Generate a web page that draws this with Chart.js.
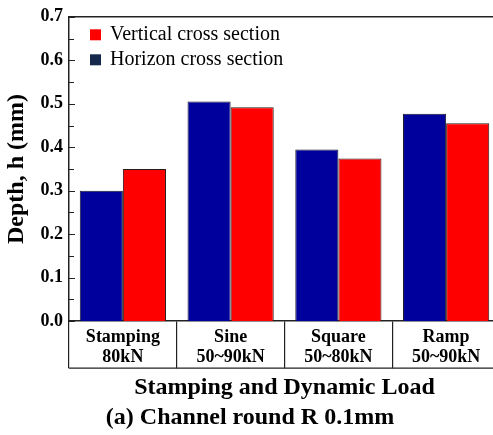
<!DOCTYPE html>
<html>
<head>
<meta charset="utf-8">
<script src="https://cdn.jsdelivr.net/npm/chart.js@4/dist/chart.umd.min.js"></script>
<style>
  html, body { margin: 0; padding: 0; background: #fff; overflow: hidden; }
  #wrap { width: 500px; height: 435px; }
</style>
</head>
<body>
<div id="wrap"><canvas id="myChart"></canvas></div>
<script>
// load cases along the x axis (two lines each)
const loadCases = [
  ['Stamping', '80kN'],
  ['Sine', '50~90kN'],
  ['Square', '50~80kN'],
  ['Ramp', '50~90kN']
];
// depth h in mm for each section
const horizonDepth = [0.300, 0.505, 0.395, 0.477];
const verticalDepth = [0.350, 0.492, 0.374, 0.455];
// y axis range
const yMin = 0.0;
const yMax = 0.7;
const yStep = 0.1;

const serif = '"Liberation Serif", "Times New Roman", serif';
Chart.defaults.font.family = serif;
Chart.defaults.color = '#000';

// legend entries, drawn inside the plot in this order
const legendItems = [
  { text: 'Vertical cross section', color: '#ff0000' },
  { text: 'Horizon cross section', color: '#15284b' }
];

// frame, inward y ticks, box under the x axis and the legend
const framePlugin = {
  id: 'frame',
  afterDraw(chart) {
    const ctx = chart.ctx;
    const area = chart.chartArea;
    const x = chart.scales.x;
    const y = chart.scales.y;
    ctx.save();
    ctx.strokeStyle = '#222';
    ctx.lineWidth = 1.5;
    // top and right border of the plot
    ctx.beginPath();
    ctx.moveTo(area.left, area.top);
    ctx.lineTo(area.right, area.top);
    ctx.lineTo(area.right, area.bottom);
    ctx.stroke();
    // bottom line of the label box
    const boxBottom = x.top + x.options.grid.tickLength;
    ctx.lineWidth = 1.2;
    ctx.beginPath();
    ctx.moveTo(area.left, boxBottom);
    ctx.lineTo(area.right, boxBottom);
    ctx.stroke();
    // major and minor ticks pointing into the plot
    ctx.lineWidth = 1;
    for (let v = yMin; v <= yMax + 1e-9; v += yStep / 2) {
      const py = Math.round(y.getPixelForValue(v)) + 0.5;
      const major = Math.abs(v / yStep - Math.round(v / yStep)) < 1e-6;
      ctx.beginPath();
      ctx.moveTo(area.left, py);
      ctx.lineTo(area.left + (major ? 6 : 5), py);
      ctx.stroke();
    }
    // legend
    ctx.font = '20px ' + serif;
    ctx.textBaseline = 'middle';
    ctx.textAlign = 'left';
    legendItems.forEach((item, i) => {
      const ly = area.top + 18 + i * 25;
      ctx.fillStyle = item.color;
      ctx.fillRect(area.left + 21, ly - 5.5, 11, 11);
      ctx.fillStyle = '#000';
      ctx.fillText(item.text, area.left + 41, ly);
    });
    ctx.restore();
  }
};

const ctx = document.getElementById('myChart').getContext('2d');
const myChart = new Chart(ctx, {
  type: 'bar',
  data: {
    labels: loadCases,
    datasets: [
      {
        label: 'Horizon cross section',
        data: horizonDepth,
        backgroundColor: '#00009c',
        borderColor: '#1a1a2a',
        borderWidth: 1
      },
      {
        label: 'Vertical cross section',
        data: verticalDepth,
        backgroundColor: '#ff0000',
        borderColor: '#2a1a1a',
        borderWidth: 1
      }
    ]
  },
  options: {
    responsive: true,
    maintainAspectRatio: false,
    animation: false,
    layout: { padding: { left: 0, top: 14, right: 0, bottom: 0 } },
    datasets: {
      bar: { barPercentage: 1.0, categoryPercentage: 0.8 }
    },
    plugins: {
      legend: { display: false },
      tooltip: { enabled: false },
      subtitle: {
        display: true,
        position: 'bottom',
        text: '(a) Channel round R 0.1mm',
        color: '#000',
        font: { size: 24, weight: 'bold', family: serif },
        padding: { top: 0, bottom: 3 }
      }
    },
    scales: {
      x: {
        afterFit(scale) { scale.height = 82; },
        grid: {
          display: true,
          offset: true,
          drawOnChartArea: false,
          drawTicks: true,
          tickLength: 47,
          color: '#222',
          lineWidth: 1.2
        },
        border: { display: true, color: '#222', width: 1.5 },
        ticks: {
          padding: -41,
          maxRotation: 0,
          color: '#000',
          font: { size: 18, weight: 'bold', family: serif, lineHeight: 1.1 }
        },
        title: {
          display: true,
          text: 'Stamping and Dynamic Load',
          color: '#000',
          font: { size: 24, weight: 'bold', family: serif },
          padding: { top: 0, bottom: 1 }
        }
      },
      y: {
        min: yMin,
        max: yMax,
        afterFit(scale) { scale.width = 69; },
        grid: { display: false, drawTicks: false },
        border: { display: true, color: '#222', width: 1.5 },
        ticks: {
          stepSize: yStep,
          padding: 6,
          color: '#000',
          font: { size: 18, weight: 'bold', family: serif },
          callback: (v) => Number(v).toFixed(1)
        },
        title: {
          display: true,
          text: 'Depth, h (mm)',
          color: '#000',
          font: { size: 24, weight: 'bold', family: serif },
          padding: 2
        }
      }
    }
  },
  plugins: [framePlugin]
});
</script>
</body>
</html>
